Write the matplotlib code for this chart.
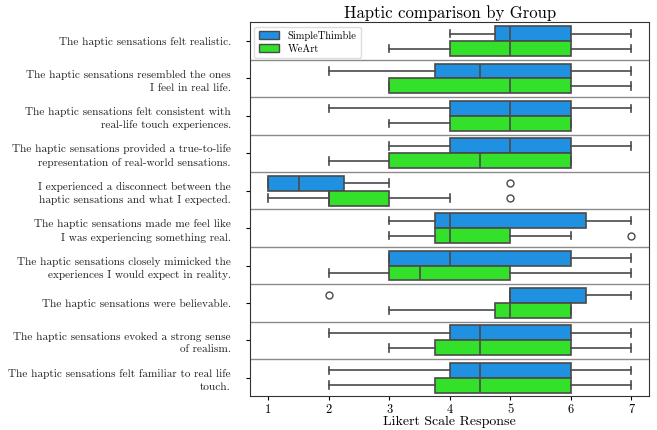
import matplotlib
matplotlib.use("Agg")
import matplotlib.pyplot as plt
from matplotlib.patches import Patch

plt.rcParams['font.family'] = ['cmr10', 'DejaVu Serif']
plt.rcParams['mathtext.fontset'] = 'cm'
plt.rcParams['axes.unicode_minus'] = False

questions = [
    "The haptic sensations felt realistic.",
    "The haptic sensations resembled the ones\nI feel in real life.",
    "The haptic sensations felt consistent with\nreal-life touch experiences.",
    "The haptic sensations provided a true-to-life\nrepresentation of real-world sensations.",
    "I experienced a disconnect between the\nhaptic sensations and what I expected.",
    "The haptic sensations made me feel like\nI was experiencing something real.",
    "The haptic sensations closely mimicked the\nexperiences I would expect in reality.",
    "The haptic sensations were believable.",
    "The haptic sensations evoked a strong sense\nof realism.",
    "The haptic sensations felt familiar to real life\ntouch.",
]
groups = ["SimpleThimble", "WeArt"]

# per question: (whislo, q1, med, q3, whishi)
simple_stats = [
    (4, 4.75, 5, 6, 7),
    (2, 3.75, 4.5, 6, 7),
    (2, 4, 5, 6, 7),
    (3, 4, 5, 6, 7),
    (1, 1, 1.5, 2.25, 3),
    (3, 3.75, 4, 6.25, 7),
    (3, 3, 4, 6, 7),
    (5, 5, 5, 6.25, 7),
    (2, 4, 4.5, 6, 7),
    (2, 4, 4.5, 6, 7),
]
simple_fliers = [[], [], [], [], [5], [], [], [2], [], []]

weart_stats = [
    (3, 4, 5, 6, 7),
    (3, 3, 5, 6, 7),
    (3, 4, 5, 6, 6),
    (2, 3, 4.5, 6, 6),
    (1, 2, 2, 3, 4),
    (3, 3.75, 4, 5, 6),
    (2, 3, 3.5, 5, 7),
    (3, 4.75, 5, 6, 6),
    (3, 3.75, 4.5, 6, 7),
    (2, 3.75, 4.5, 6, 7),
]
weart_fliers = [[], [], [], [], [5], [7], [], [], [], []]

colors = ["#2090e0", "#33e02a"]
edge = "#4a4a4a"

fig, ax = plt.subplots(figsize=(6.57, 4.3), dpi=100)
fig.subplots_adjust(left=0.381, right=0.988, top=0.948, bottom=0.078)

def make(stats, fliers):
    out = []
    for (lo, q1, med, q3, hi), fl in zip(stats, fliers):
        out.append(dict(whislo=lo, q1=q1, med=med, q3=q3, whishi=hi, fliers=fl))
    return out

n = len(questions)
for gi, (stats, fliers) in enumerate([(simple_stats, simple_fliers), (weart_stats, weart_fliers)]):
    pos = [i - 0.2 + 0.4 * gi for i in range(n)]
    ax.bxp(make(stats, fliers), positions=pos, widths=0.4, vert=False,
           patch_artist=True, manage_ticks=False,
           boxprops=dict(facecolor=colors[gi], edgecolor=edge, linewidth=1.2),
           medianprops=dict(color=edge, linewidth=1.2),
           whiskerprops=dict(color=edge, linewidth=1.2),
           capprops=dict(color=edge, linewidth=1.2),
           flierprops=dict(marker='o', markerfacecolor='none', markeredgecolor=edge,
                           markersize=5, markeredgewidth=1.0),
           capwidths=0.2)

for i in range(n - 1):
    ax.axhline(i + 0.5, color="#8a8a8a", linewidth=1.0, zorder=0.5)

ax.set_ylim(n - 0.5, -0.5)
ax.set_xlim(0.7, 7.3)
ax.set_yticks(range(n))
ax.set_yticklabels(questions, fontsize=8.1, multialignment='right', color="#222222",
                   linespacing=1.45)
ax.tick_params(axis='y', pad=11, length=3)
ax.set_xticks(range(1, 8))
ax.tick_params(axis='x', labelsize=9, pad=2, length=3)
ax.set_xlabel("Likert Scale Response", fontsize=10, labelpad=0)
ax.set_title("Haptic comparison by Group", fontsize=12, pad=3)
for s in ax.spines.values():
    s.set_color("#333333")

handles = [Patch(facecolor=colors[i], edgecolor=edge, label=groups[i]) for i in range(2)]
ax.legend(handles=handles, loc='upper left', fontsize=7.5, framealpha=1,
          edgecolor="#dddddd", handlelength=2.0, handleheight=0.9,
          borderaxespad=0.4, labelspacing=0.3)

fig.savefig("out.png", dpi=100)
